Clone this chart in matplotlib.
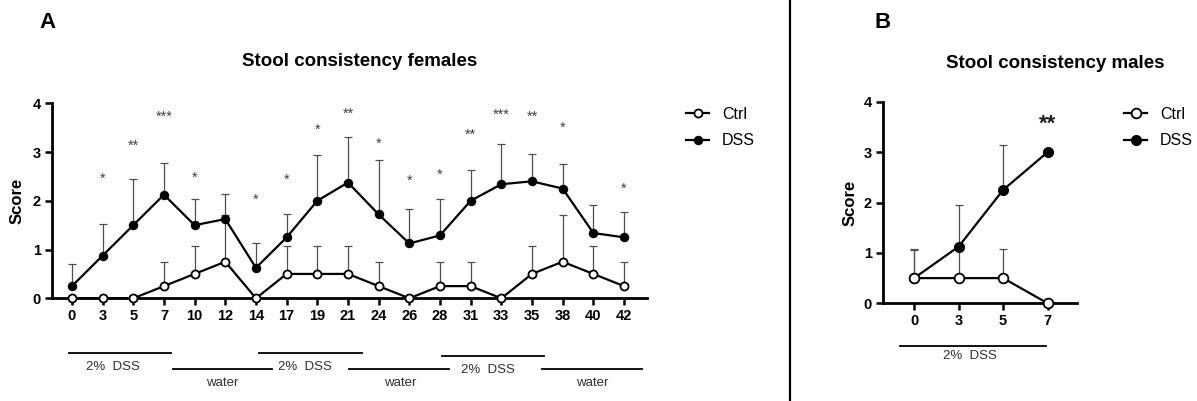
import numpy as np
import matplotlib.pyplot as plt
from matplotlib.lines import Line2D

plt.rcParams['font.family'] = ['Liberation Sans', 'DejaVu Sans']

# females: stool consistency score (mean, SD drawn upwards only)
days_f = ['0', '3', '5', '7', '10', '12', '14', '17', '19', '21',
          '24', '26', '28', '31', '33', '35', '38', '40', '42']
ctrl_f = [0, 0, 0, 0.25, 0.5, 0.75, 0, 0.5, 0.5, 0.5,
          0.25, 0, 0.25, 0.25, 0, 0.5, 0.75, 0.5, 0.25]
ctrl_f_sd = [0, 0, 0, 0.5, 0.58, 0.95, 0, 0.58, 0.58, 0.58,
             0.5, 0, 0.5, 0.5, 0, 0.58, 0.96, 0.58, 0.5]
dss_f = [0.25, 0.875, 1.5, 2.125, 1.5, 1.625, 0.625, 1.25, 2.0, 2.375,
         1.72, 1.125, 1.29, 2.0, 2.34, 2.4, 2.25, 1.34, 1.25]
dss_f_sd = [0.46, 0.655, 0.94, 0.645, 0.54, 0.515, 0.505, 0.47, 0.93, 0.925,
            1.11, 0.715, 0.75, 0.63, 0.82, 0.56, 0.51, 0.57, 0.52]
stars_f = ['', '*', '**', '***', '*', '', '*', '*', '*', '**',
           '*', '*', '*', '**', '***', '**', '*', '', '*']
stars_f_y = [0, 2.54, 3.21, 3.81, 2.56, 0, 2.10, 2.51, 3.54, 3.88,
             3.26, 2.49, 2.63, 3.45, 3.86, 3.81, 3.59, 0, 2.34]

# males
days_m = ['0', '3', '5', '7']
ctrl_m = [0.5, 0.5, 0.5, 0]
ctrl_m_sd = [0.58, 0.58, 0.58, 0]
dss_m = [0.5, 1.125, 2.25, 3.0]
dss_m_sd = [0.56, 0.83, 0.89, 0]
stars_m = ['', '', '', '**']
stars_m_y = [0, 0, 0, 3.70]

W, H = 1197, 401


def fx(px):
    return px / W


def fy(py):
    return (H - py) / H


def draw_panel(ax, days, ctrl, ctrl_sd, dss, dss_sd, ms):
    x = np.arange(len(days))
    for y, sd in ((dss, dss_sd), (ctrl, ctrl_sd)):
        y = np.asarray(y, float)
        sd = np.asarray(sd, float)
        keep = sd > 0
        ax.errorbar(x[keep], y[keep], yerr=[np.zeros(keep.sum()), sd[keep]],
                    fmt='none', ecolor='#505050', elinewidth=0.9,
                    capsize=3, capthick=0.9, zorder=2)
    ax.plot(x, dss, '-o', color='black', lw=1.6, ms=ms, mfc='black',
            mec='black', label='DSS', zorder=3, clip_on=False)
    ax.plot(x, ctrl, '-o', color='black', lw=1.6, ms=ms, mfc='white',
            mec='black', mew=1.3, label='Ctrl', zorder=4, clip_on=False)

    ax.set_ylim(0, 4)
    ax.set_yticks(range(5))
    ax.set_yticklabels([str(i) for i in range(5)], fontweight='bold', fontsize=10.5)
    ax.set_xticks(x)
    ax.set_xticklabels(days, fontweight='bold', fontsize=10.5)
    ax.set_ylabel('Score', fontweight='bold', fontsize=12)
    for s in ('top', 'right'):
        ax.spines[s].set_visible(False)
    for s in ('left', 'bottom'):
        ax.spines[s].set_linewidth(2)
    ax.tick_params(direction='out', length=5, width=1.8, pad=3)

    h, l = ax.get_legend_handles_labels()
    return h[::-1], l[::-1]


fig = plt.figure(figsize=(W / 100, H / 100), dpi=100)

# ---- panel A ----
axA = fig.add_axes([fx(52), fy(298.3), fx(647 - 52), (298.3 - 103.3) / H])
hA, lA = draw_panel(axA, days_f, ctrl_f, ctrl_f_sd, dss_f, dss_f_sd, 5.8)
axA.set_xlim(-0.65, 18.75)
axA.yaxis.set_label_coords(-0.047, 0.5)
for i, (s, y) in enumerate(zip(stars_f, stars_f_y)):
    if s:
        axA.annotate(s, (i, y), xytext=(0, -6), textcoords='offset points',
                     ha='center', va='baseline', fontsize=10.5, color='#404040')

# treatment periods under the x axis (index units)
periods_A = [('2%  DSS', -0.1, 3.23, -0.278, 1.34),
             ('water', 3.28, 6.52, -0.363, 4.9),
             ('2%  DSS', 6.10, 9.46, -0.278, 7.6),
             ('water', 9.02, 12.31, -0.363, 10.7),
             ('2%  DSS', 12.07, 15.39, -0.294, 13.55),
             ('water', 15.33, 18.59, -0.363, 16.95)]
trA = axA.get_xaxis_transform()
for txt, x0, x1, yl, xt in periods_A:
    axA.plot([x0, x1], [yl, yl], color='black', lw=1.3, transform=trA, clip_on=False)
    yt = yl - 0.072
    axA.text(xt, yt, txt, transform=trA, ha='center', va='center',
             fontsize=9.5, color='#303030')

axA.legend(hA, lA, loc='upper left', bbox_to_anchor=(fx(686), fy(107)),
           bbox_transform=fig.transFigure, frameon=False, fontsize=11.5,
           handlelength=1.45, handletextpad=0.8, labelspacing=0.7,
           borderpad=0, borderaxespad=0)

fig.text(fx(360), fy(62), 'Stool consistency females', ha='center', va='center',
         fontsize=13.5, fontweight='bold')
fig.text(fx(48), fy(22), 'A', ha='center', va='center', fontsize=16, fontweight='bold')

# ---- panel B ----
axB = fig.add_axes([fx(883), fy(303.3), fx(1077 - 883), (303.3 - 101.7) / H])
hB, lB = draw_panel(axB, days_m, ctrl_m, ctrl_m_sd, dss_m, dss_m_sd, 7)
axB.set_xlim(-0.70, 3.66)
axB.yaxis.set_label_coords(-0.129, 0.5)
for i, (s, y) in enumerate(zip(stars_m, stars_m_y)):
    if s:
        axB.annotate(s, (i, y), xytext=(0, -9), textcoords='offset points',
                     ha='center', va='baseline', fontsize=16, fontweight='bold',
                     color='#202020')
trB = axB.get_xaxis_transform()
axB.plot([-0.31, 2.97], [-0.212, -0.212], color='black', lw=1.3,
         transform=trB, clip_on=False)
axB.text(1.26, -0.262, '2%  DSS', transform=trB, ha='center', va='center',
         fontsize=9.5, color='#303030')

axB.legend(hB, lB, loc='upper left', bbox_to_anchor=(fx(1124), fy(107)),
           bbox_transform=fig.transFigure, frameon=False, fontsize=11.5,
           handlelength=1.45, handletextpad=0.8, labelspacing=0.7,
           borderpad=0, borderaxespad=0)

fig.text(fx(1055), fy(63), 'Stool consistency males', ha='center', va='center',
         fontsize=13.5, fontweight='bold')
fig.text(fx(883), fy(22), 'B', ha='center', va='center', fontsize=16, fontweight='bold')

# divider between the panels
fig.add_artist(Line2D([fx(790), fx(790)], [0, 1], color='black', lw=1.6))

fig.savefig('out.png', dpi=100)
